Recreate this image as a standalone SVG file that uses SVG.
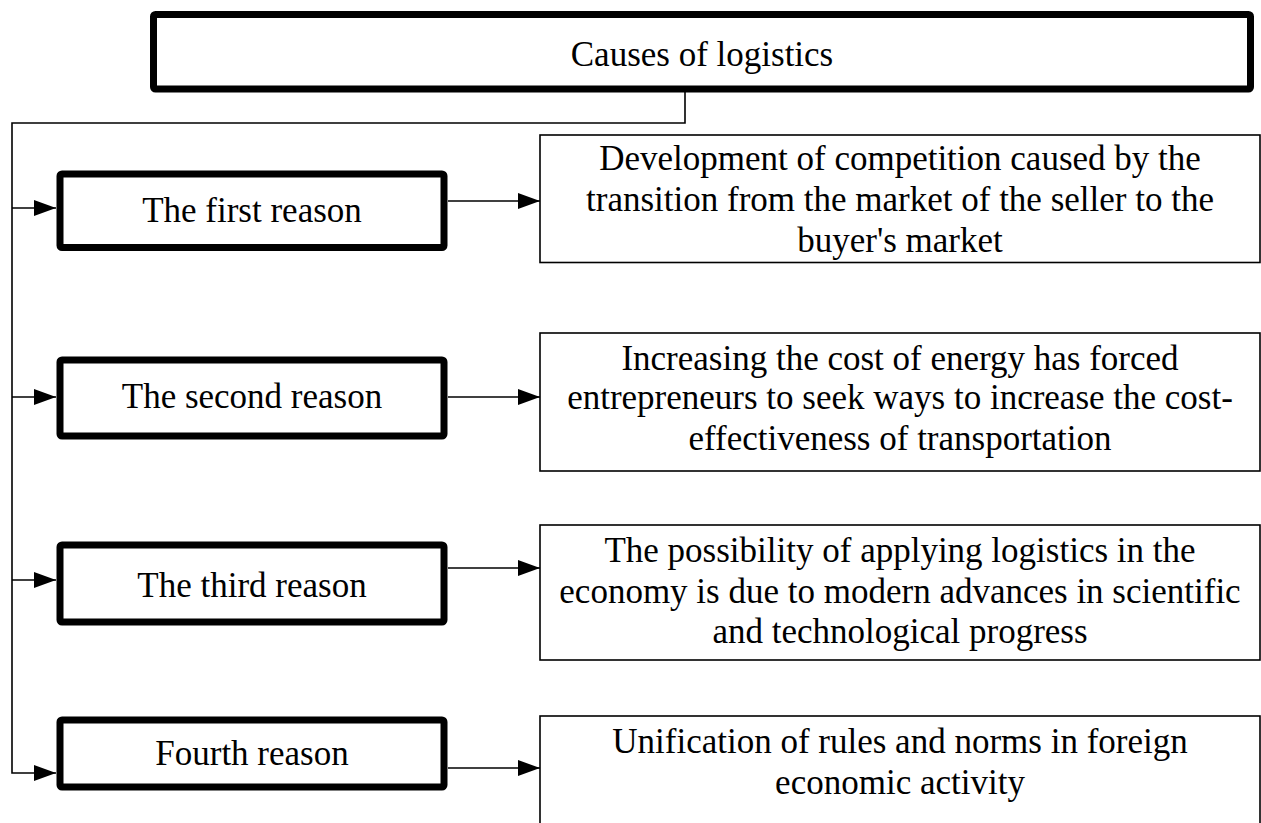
<svg xmlns="http://www.w3.org/2000/svg" width="1261" height="823" viewBox="0 0 1261 823">
<defs>
<style>
.thick{fill:#fff;stroke:#000;stroke-width:7;}
.thin{fill:#fff;stroke:#000;stroke-width:1.6;}
.t{font-family:"Liberation Serif","Times New Roman",serif;font-size:35px;fill:#000;text-anchor:middle;}
.c{fill:none;stroke:#000;stroke-width:1.6;}
</style>
<marker id="ah" markerUnits="userSpaceOnUse" markerWidth="22" markerHeight="16" refX="22" refY="8" orient="auto">
<path d="M0,0 L22,8 L0,16 z" fill="#000"/>
</marker>
</defs>
<rect width="1261" height="823" fill="#fff"/>
<g id="top">
<rect class="thick" x="153.5" y="14.5" width="1097" height="74.5" rx="2"/>
<text class="t" x="702" y="66">Causes of logistics</text>
</g>
<g id="connectors">
<polyline class="c" points="685,89 685,123 12,123 12,773 56,773" marker-end="url(#ah)"/>
<line class="c" x1="12" y1="208" x2="56" y2="208" marker-end="url(#ah)"/>
<line class="c" x1="12" y1="397" x2="56" y2="397" marker-end="url(#ah)"/>
<line class="c" x1="12" y1="580" x2="56" y2="580" marker-end="url(#ah)"/>
<line class="c" x1="448" y1="201" x2="540" y2="201" marker-end="url(#ah)"/>
<line class="c" x1="448" y1="397" x2="540" y2="397" marker-end="url(#ah)"/>
<line class="c" x1="448" y1="568" x2="540" y2="568" marker-end="url(#ah)"/>
<line class="c" x1="448" y1="768" x2="540" y2="768" marker-end="url(#ah)"/>
</g>
<g id="r1">
<rect class="thick" x="60" y="174" width="384" height="73.5" rx="2"/>
<text class="t" x="252" y="222">The first reason</text>
</g>
<g id="r2">
<rect class="thick" x="60" y="360" width="384" height="76" rx="2"/>
<text class="t" x="252" y="408">The second reason</text>
</g>
<g id="r3">
<rect class="thick" x="60" y="545" width="384" height="77" rx="2"/>
<text class="t" x="252" y="597">The third reason</text>
</g>
<g id="r4">
<rect class="thick" x="60" y="720" width="384" height="67" rx="2"/>
<text class="t" x="252" y="765">Fourth reason</text>
</g>
<g id="d1">
<rect class="thin" x="540" y="135" width="720" height="127.5"/>
<text class="t" x="900" y="170">Development of competition caused by the</text>
<text class="t" x="900" y="211">transition from the market of the seller to the</text>
<text class="t" x="900" y="252">buyer's market</text>
</g>
<g id="d2">
<rect class="thin" x="540" y="333" width="720" height="138"/>
<text class="t" x="900" y="370">Increasing the cost of energy has forced</text>
<text class="t" x="900" y="409">entrepreneurs to seek ways to increase the cost-</text>
<text class="t" x="900" y="450">effectiveness of transportation</text>
</g>
<g id="d3">
<rect class="thin" x="540" y="525" width="720" height="135"/>
<text class="t" x="900" y="562">The possibility of applying logistics in the</text>
<text class="t" x="900" y="603">economy is due to modern advances in scientific</text>
<text class="t" x="900" y="643">and technological progress</text>
</g>
<g id="d4">
<rect class="thin" x="540" y="716" width="720" height="120"/>
<text class="t" x="900" y="753">Unification of rules and norms in foreign</text>
<text class="t" x="900" y="794">economic activity</text>
</g>
</svg>
